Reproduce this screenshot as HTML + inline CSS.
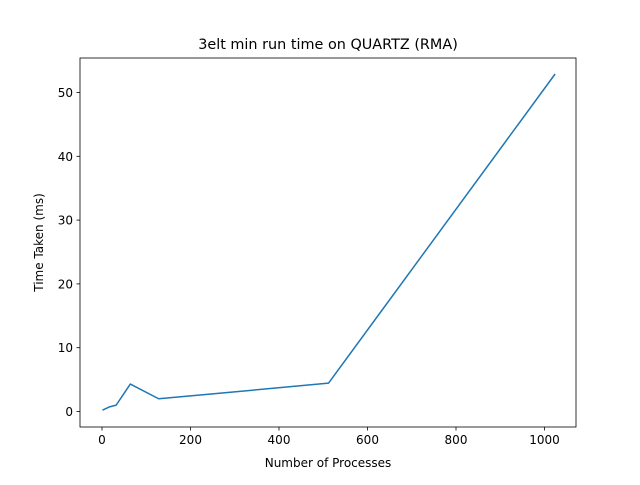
<!DOCTYPE html>
<html><head><meta charset="utf-8"><style>
body{margin:0;background:#fff;font-family:"Liberation Sans","DejaVu Sans",sans-serif}
svg text{font-family:"DejaVu Sans","Liberation Sans",sans-serif}
</style></head><body>
<svg id="c" width="640" height="480" xmlns="http://www.w3.org/2000/svg">
<rect width="640" height="480" fill="#fff"/>
<text x="328" y="49" text-anchor="middle" font-size="14.4">3elt min run time on QUARTZ (RMA)</text>
<text x="328" y="467" text-anchor="middle" font-size="12">Number of Processes</text>
<text transform="translate(43,242.5) rotate(-90)" text-anchor="middle" font-size="12">Time Taken (ms)</text>
<g id="ticks"></g>
<polyline id="line" fill="none" stroke="#1f77b4" stroke-width="1.5" stroke-linejoin="round"/>
<rect x="80" y="58" width="496" height="369" fill="none" stroke="#000" stroke-width="0.8"/>
</svg>
<script>
const processes=[1,16,32,64,128,256,512,1024];
const timeMs=[0.2,0.7,1.0,4.3,2.0,2.8,4.45,52.9];
const xTicks=[0,200,400,600,800,1000];
const yTicks=[0,10,20,30,40,50];
const sx=v=>102+v*0.4425;
const sy=v=>411.5-v*6.38;
const ns="http://www.w3.org/2000/svg";
const g=document.getElementById('ticks');
function mk(t,a){const e=document.createElementNS(ns,t);for(const k in a)e.setAttribute(k,a[k]);g.appendChild(e);return e;}
xTicks.forEach(v=>{
 const l=mk('line',{x1:sx(v),x2:sx(v),y1:427,y2:430.5,stroke:'#000','stroke-width':0.8});
 
 
 const t=mk('text',{x:sx(v),y:444,'text-anchor':'middle','font-size':12});t.textContent=v;
 
 
});
yTicks.forEach(v=>{
 const l=mk('line',{x1:76.5,x2:80,y1:sy(v),y2:sy(v),stroke:'#000','stroke-width':0.8});
 
 
 const t=mk('text',{x:73,y:sy(v)+4.5,'text-anchor':'end','font-size':12});t.textContent=v;
 
 
});
document.getElementById('line').setAttribute('points',processes.map((p,i)=>sx(p)+','+sy(timeMs[i])).join(' '));
</script>
</body></html>
